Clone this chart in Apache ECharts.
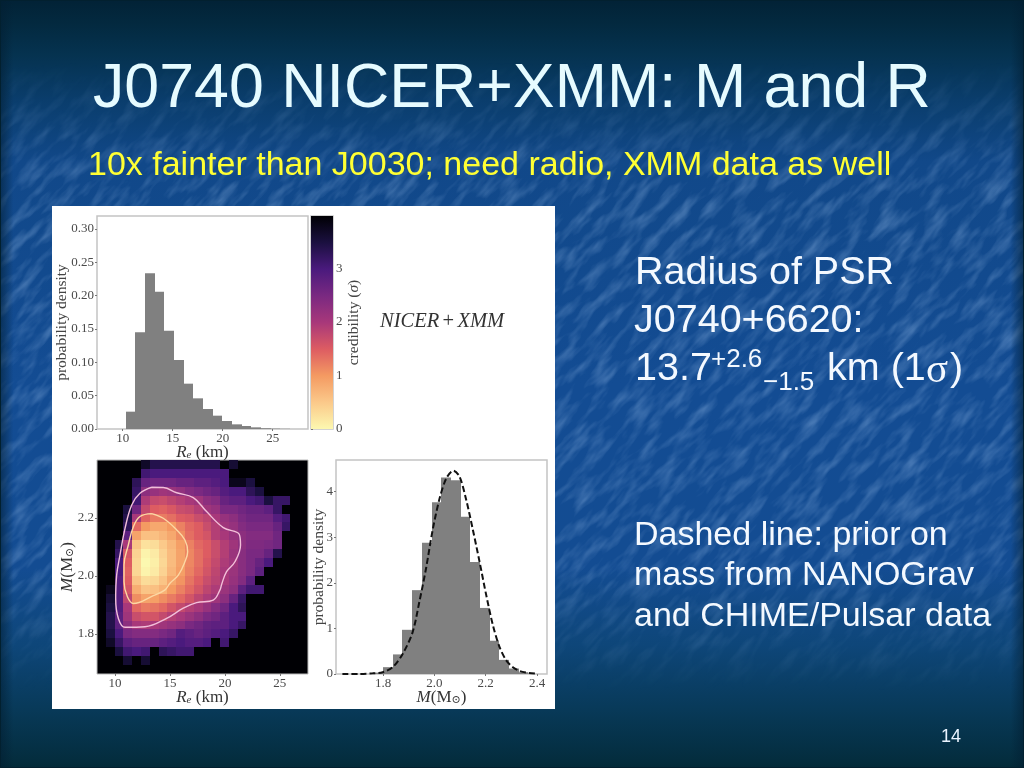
<!DOCTYPE html>
<html><head><meta charset="utf-8">
<style>
html,body{margin:0;padding:0;width:1024px;height:768px;overflow:hidden;background:#124a8c}
#bg{position:absolute;left:0;top:0;width:1024px;height:768px;background:linear-gradient(180deg,#022236 0,#03293f 3%,#05324f 7%,#0a3d6c 13%,#114889 21%,#134c93 50%,#134c92 74%,#0e4679 84%,#083a5a 92%,#042d3e 99%,#032a38 100%)}
#tx{position:absolute;left:0;top:0;width:1024px;height:768px;-webkit-mask-image:linear-gradient(180deg,transparent 8%,#000 25%,#000 72%,transparent 90%);mask-image:linear-gradient(180deg,transparent 8%,#000 25%,#000 72%,transparent 90%)}
#edge{position:absolute;left:0;top:0;width:1024px;height:768px;box-sizing:border-box;border:1px solid #02202f;background:linear-gradient(90deg,rgba(2,30,50,.55) 0,rgba(2,30,50,0) 1.2%,rgba(2,30,50,0) 98.8%,rgba(2,30,50,.55) 100%)}
#main{position:absolute;left:0;top:0;width:1024px;height:768px;filter:blur(0.45px)}
</style></head><body>
<div id="bg"></div>
<svg id="tx" xmlns="http://www.w3.org/2000/svg" width="1024" height="768">
<filter id="f" x="-30%" y="-30%" width="160%" height="160%"><feTurbulence type="fractalNoise" baseFrequency="0.03 0.1" numOctaves="3" seed="7"/><feColorMatrix type="matrix" values="0 0 0 0 0.42  0 0 0 0 0.62  0 0 0 0 0.92  0.7 0 0 0 -0.3"/></filter>
<g transform="rotate(-48 512 384)"><rect x="-300" y="-300" width="1624" height="1368" filter="url(#f)"/></g>
</svg>
<div id="edge"></div>
<div id="main"></div>
<script src="https://cdn.jsdelivr.net/npm/echarts@6/dist/echarts.min.js"></script>
<script>
// ---- top histogram: equatorial radius
const radiusEdges = [10.3,11.27,12.23,13.2,14.17,15.13,16.1,17.07,18.03,19.0,19.97,20.93,21.9,22.87,23.83,24.8,25.77,26.73];
const radiusDensity = [0.026,0.145,0.2335,0.206,0.1475,0.1035,0.068,0.046,0.03,0.02,0.012,0.007,0.0045,0.0025,0.0012,0.0006,0.0003];
const radiusTicks = [10,15,20,25];
const radiusDensityTicks = [0,0.05,0.10,0.15,0.20,0.25,0.30];
// ---- bottom histogram: mass
const massEdges = [1.762,1.8,1.838,1.875,1.913,1.951,1.989,2.026,2.064,2.102,2.14,2.177,2.215,2.253,2.291,2.328,2.366];
const massDensity = [0.03,0.15,0.43,0.97,1.84,2.88,3.77,4.31,4.25,3.45,2.46,1.45,0.73,0.31,0.12,0.04];
const priorMass = [1.641,1.707,1.759,1.798,1.837,1.876,1.915,1.941,1.967,1.993,2.02,2.046,2.074,2.098,2.124,2.15,2.176,2.202,2.228,2.254,2.28,2.306,2.332,2.358,2.398];
const priorDensity = [0,0.002,0.015,0.04,0.15,0.44,0.92,1.58,2.31,3.16,3.85,4.29,4.46,4.33,3.82,3.16,2.46,1.73,1.07,0.59,0.3,0.15,0.066,0.03,0.007];
const massTicks = [1.8,2.0,2.2,2.4];
const massDensityTicks = [0,1,2,3,4];
// ---- joint map: credibility (sigma) per cell, top row first; 4 = black
const heatRadiusStart = 8.36, heatRadiusStep = 0.8;
const heatMassTop = 2.4, heatMassStep = 0.03075;
const credibility = [
[4,4,4,4,4,3.7,3.4,3.4,3.4,3.4,3.4,3.4,3.4,3.4,4,3.6,4,4,4,4,4,4,4,4],
[4,4,4,4,4,3.1,3.0,3.0,3.0,3.0,3.0,3.0,3.0,3.0,3.0,4,4,4,4,4,4,4,4,4],
[4,4,4,4,3.3,2.7,2.6,2.6,2.6,2.7,2.7,2.8,2.8,2.9,3.0,3.8,3.8,3.5,4,4,4,4,4,4],
[4,4,4,4,3.2,2.3,2.2,2.1,2.15,2.25,2.4,2.5,2.6,2.7,2.9,3.0,3.0,3.3,3.5,4,4,4,4,4],
[4,4,4,4,3.1,1.95,1.75,1.7,1.8,1.9,2.0,2.1,2.3,2.4,2.7,2.8,2.8,3.0,3.1,3.5,3.2,3.2,4,4],
[4,4,4,3.5,2.6,1.75,1.5,1.45,1.55,1.7,1.75,1.9,2.1,2.2,2.5,2.5,2.6,2.7,2.7,2.8,3.2,4,4,4],
[4,4,4,3.4,2.0,1.45,1.25,1.25,1.35,1.5,1.55,1.7,1.8,2.0,2.2,2.3,2.5,2.6,2.6,2.6,2.9,3.1,4,4],
[4,4,4,3.3,1.4,1.0,0.85,0.85,1.0,1.2,1.4,1.5,1.7,1.9,2.1,2.2,2.4,2.5,2.5,2.5,2.7,3.2,4,4],
[4,4,4,2.8,0.9,0.6,0.6,0.7,0.85,1.1,1.35,1.5,1.6,1.9,2.0,2.2,2.3,2.4,2.4,2.4,2.6,4,4,4],
[4,4,3.4,2.0,0.55,0.25,0.3,0.5,0.7,0.95,1.2,1.4,1.5,1.7,1.9,2.1,2.3,2.45,2.45,2.5,2.6,4,4,4],
[4,4,3.2,1.6,0.4,0.05,0.15,0.4,0.65,0.9,1.15,1.35,1.5,1.7,1.9,2.15,2.35,2.5,2.5,2.7,3.4,4,4,4],
[4,4,3.0,1.5,0.35,0,0.1,0.35,0.65,0.9,1.15,1.35,1.55,1.75,1.95,2.1,2.35,2.5,2.7,3.0,4,4,4,4],
[4,4,3.0,1.45,0.35,0.05,0.15,0.4,0.7,0.95,1.2,1.4,1.6,1.8,2.0,2.15,2.35,2.5,2.8,4,4,4,4,4],
[4,4,2.9,1.5,0.55,0.3,0.35,0.55,0.85,1.05,1.3,1.5,1.7,1.85,2.0,2.2,2.4,2.8,4,4,4,4,4,4],
[4,3.8,2.9,1.6,0.8,0.55,0.6,0.75,1.0,1.2,1.4,1.6,1.8,1.95,2.15,2.3,2.8,3.1,3.1,4,4,4,4,4],
[4,3.6,2.9,1.8,1.1,0.9,0.95,1.1,1.25,1.4,1.6,1.8,1.95,2.1,2.3,2.7,3.2,4,4,4,4,4,4,4],
[4,3.5,2.9,2.0,1.4,1.25,1.3,1.4,1.6,1.75,1.9,2.0,2.2,2.4,2.6,3.0,3.3,4,4,4,4,4,4,4],
[4,3.4,2.8,2.1,1.7,1.6,1.6,1.75,1.9,2.0,2.15,2.3,2.5,2.6,2.8,3.0,3.0,4,4,4,4,4,4,4],
[4,3.4,2.8,2.3,2.0,1.95,2.0,2.1,2.2,2.3,2.5,2.6,2.75,2.8,2.8,3.0,3.2,4,4,4,4,4,4,4],
[4,3.5,3.0,2.5,2.4,2.4,2.4,2.5,2.6,2.9,2.8,2.7,2.8,2.9,3.0,3.2,4,4,4,4,4,4,4,4],
[4,3.7,3.2,2.8,2.7,2.7,2.7,2.8,2.9,3.0,2.9,2.9,3.0,4,3.1,4,4,4,4,4,4,4,4,4],
[4,4,3.5,3.1,3.0,3.1,4,3.3,3.2,3.1,3.1,4,4,4,4,4,4,4,4,4,4,4,4,4],
[4,4,4,3.6,4,3.6,4,4,4,4,4,4,4,4,4,4,4,4,4,4,4,4,4,4],
[4,4,4,4,4,4,4,4,4,4,4,4,4,4,4,4,4,4,4,4,4,4,4,4]
];
const heatRadiusTicks = [10,15,20,25];
const heatMassTicks = [1.8,2.0,2.2];
const contourOuter = [[13.33,2.306],[14.39,2.305],[15.61,2.287],[17.12,2.27],[18.33,2.222],[19.85,2.167],[21.3,2.144],[21.42,2.107],[20.91,2.049],[20.15,2.015],[19.7,1.971],[19.55,1.952],[18.94,1.917],[17.42,1.908],[16.21,1.889],[14.7,1.854],[12.73,1.825],[10.91,1.823],[10.3,1.854],[10.06,1.923],[10.15,2.003],[10.45,2.072],[10.91,2.164],[11.52,2.245],[12.27,2.285],[13.33,2.306]];
const contourInner = [[13.33,2.215],[14.39,2.199],[15.61,2.159],[16.36,2.124],[16.61,2.084],[16.36,2.049],[15.76,2.003],[15.0,1.975],[14.55,1.952],[13.48,1.932],[11.67,1.905],[11.12,1.929],[10.82,1.98],[10.82,2.038],[11.21,2.107],[11.67,2.17],[12.27,2.205],[13.33,2.215]];
// ---- colour bar
const sigmaColors = ['#fcf8b0','#fbc98a','#f49a62','#dd5c62','#a8387a','#7a2981','#4a1a7d','#1b1040','#000004'];
const sigmaTicks = [0,1,2,3];
const sigmaMax = 3.98;

const SERIF = '"Liberation Serif","DejaVu Serif",serif';
const SANS = '"Liberation Sans",Arial,sans-serif';
const INK = '#4a4a4a';
const chart = echarts.init(document.getElementById('main'), null, {renderer:'canvas',width:1024,height:768});

const mathRich = {
  n:{fontFamily:SERIF,fontSize:17,color:'#333'},
  i:{fontFamily:SERIF,fontSize:17,fontStyle:'italic',color:'#333'},
  s:{fontFamily:SERIF,fontSize:11,fontStyle:'italic',color:'#333',padding:[5,0,0,0]},
  b:{fontFamily:SERIF,fontSize:11,color:'#333',padding:[5,0,0,0]}
};
function axis(min,max,ticks,fmt,extra){
  return Object.assign({type:'value',min,max,nameMoveOverlap:false,
    axisLine:{show:false},splitLine:{show:false},
    axisTick:{show:true,length:2,inside:false,customValues:ticks,lineStyle:{color:'#777',width:1}},
    axisLabel:{show:true,margin:3,color:INK,fontFamily:SERIF,fontSize:13,customValues:ticks,hideOverlap:false,showMinLabel:true,showMaxLabel:true,formatter:fmt},
    nameTextStyle:{fontFamily:SERIF,fontSize:15.5,color:'#444'}
  },extra||{});
}
const grids = [
  {left:97,top:216,width:211,height:213},
  {left:97,top:460,width:211,height:214},
  {left:336,top:460,width:211,height:214},
  {left:311,top:216,width:22,height:213}
].map(g=>Object.assign(g,{show:true,borderColor:'#c4c4c4',borderWidth:1.5,backgroundColor:'transparent',containLabel:false}));
grids[1].backgroundColor='#000004'; grids[1].borderColor='#bbb'; grids[1].borderWidth=1;

const kmName = '{i|R}{s|e}{n| (km)}';
const mName = '{i|M}{n|(M}{b|⊙}{n|)}';
const xAxes = [
  axis(7.43,28.53,radiusTicks,v=>String(v),{gridIndex:0,name:kmName,nameLocation:'middle',nameGap:15,nameTextStyle:{rich:mathRich}}),
  axis(8.36,27.56,heatRadiusTicks,v=>String(v),{gridIndex:1,name:kmName,nameLocation:'middle',nameGap:15,nameTextStyle:{rich:mathRich}}),
  axis(1.616,2.439,massTicks,v=>v.toFixed(1),{gridIndex:2,name:mName,nameLocation:'middle',nameGap:15,nameTextStyle:{rich:mathRich}}),
  {type:'value',gridIndex:3,min:0,max:1,show:false}
];
const yAxes = [
  axis(0,0.3195,radiusDensityTicks,v=>v.toFixed(2),{gridIndex:0,name:'probability density',nameLocation:'middle',nameGap:27}),
  axis(1.662,2.4,heatMassTicks,v=>v.toFixed(1),{gridIndex:1,name:mName,nameLocation:'middle',nameGap:21,nameTextStyle:{rich:mathRich}}),
  axis(0,4.696,massDensityTicks,v=>String(v),{gridIndex:2,name:'probability density',nameLocation:'middle',nameGap:9}),
  axis(0,sigmaMax,sigmaTicks,v=>String(v),{gridIndex:3,position:'right',name:'credibility',nameLocation:'middle',nameGap:13})
];
yAxes[3].name='{n|credibility (}{i|σ}{n|)}';
yAxes[3].nameTextStyle={rich:{n:{fontFamily:SERIF,fontSize:15.5,color:'#444'},i:{fontFamily:SERIF,fontSize:15.5,fontStyle:'italic',color:'#444'}}};

function binData(edges,vals){return vals.map((v,i)=>[edges[i],edges[i+1],v]);}
function barItem(params,api){
  const a=api.coord([api.value(0),0]), b=api.coord([api.value(1),api.value(2)]);
  const x0=Math.round(a[0]), x1=Math.round(b[0]);
  return {type:'rect',shape:{x:x0,y:b[1],width:x1-x0,height:a[1]-b[1]},style:{fill:'#808080'}};
}
const heatData=[];
credibility.forEach((row,r)=>row.forEach((v,c)=>{
  const x0=heatRadiusStart+c*heatRadiusStep, y1=heatMassTop-r*heatMassStep;
  if(v<4) heatData.push([x0,x0+heatRadiusStep,y1-heatMassStep,y1,v]);
}));
function heatItem(params,api){
  const a=api.coord([api.value(0),api.value(2)]), b=api.coord([api.value(1),api.value(3)]);
  const x0=Math.round(a[0]), x1=Math.round(b[0]), y0=Math.round(b[1]), y1=Math.round(a[1]);
  return {type:'rect',shape:{x:x0,y:y0,width:x1-x0,height:y1-y0},style:{fill:api.visual('color')}};
}
const gradStops=sigmaColors.map((c,i)=>({offset:i/(sigmaColors.length-1),color:c}));
function barItemColor(params,api){
  const a=api.coord([0,0]), b=api.coord([1,api.value(1)]);
  return {type:'rect',shape:{x:a[0],y:b[1],width:b[0]-a[0],height:a[1]-b[1]},
    style:{fill:new echarts.graphic.LinearGradient(0,1,0,0,gradStops)}};
}

const WHITE='#f4f9ff';
const texts=[
 ['J0740 NICER+XMM: M and R',93,90,'62.7px '+SANS,'#e6fbff',true],
 ['10x fainter than J0030; need radio, XMM data as well',88,166,'34px '+SANS,'#ffff33'],
 ['Radius of PSR',635,273,'39.5px '+SANS,WHITE],
 ['J0740+6620:',634,321,'39.5px '+SANS,WHITE],
 ['13.7',635,369,'39.5px '+SANS,WHITE],
 ['+2.6',711,360,'26px '+SANS,WHITE],
 ['−1.5',763,383,'26px '+SANS,WHITE],
 ['km (1',827,369,'39.5px '+SANS,WHITE],
 ['σ',926,371,'41px '+SERIF,WHITE],
 [')',950,369,'39.5px '+SANS,WHITE],
 ['Dashed line: prior on',634,536,'34px '+SANS,WHITE],
 ['mass from NANOGrav',634,576,'34px '+SANS,WHITE],
 ['and CHIME/Pulsar data',634,617,'34px '+SANS,WHITE],
 ['14',941,737,'18px '+SANS,'#eaf4ff']
];
const graphic=[{type:'rect',z:-10,shape:{x:52,y:206,width:503,height:503},style:{fill:'#fff'}}]
 .concat(texts.map(t=>({type:'text',z:10,style:Object.assign({text:t[0],x:t[1],y:t[2],font:t[3],fill:t[4],textVerticalAlign:'middle'},
   t[5]?{shadowBlur:7,shadowColor:'rgba(0,20,40,0.95)',shadowOffsetX:3,shadowOffsetY:3}:{})})))
 .concat([{type:'text',z:10,style:{
    text:'{i|NICER} {n|+} {i|XMM}',x:380,y:322,textVerticalAlign:'middle',
    rich:{i:{fontFamily:SERIF,fontStyle:'italic',fontSize:20.5,fill:'#333',color:'#333'},n:{fontFamily:SERIF,fontSize:20.5,fill:'#333',color:'#333'}}}}]);

chart.setOption({
  animation:false,
  backgroundColor:'transparent',
  grid:grids, xAxis:xAxes, yAxis:yAxes,
  graphic,
  visualMap:[{show:false,type:'continuous',seriesIndex:1,dimension:4,min:0,max:4,inRange:{color:sigmaColors}}],
  series:[
    {type:'custom',xAxisIndex:0,yAxisIndex:0,renderItem:barItem,encode:{x:[0,1],y:2},data:binData(radiusEdges,radiusDensity),silent:true},
    {type:'custom',xAxisIndex:1,yAxisIndex:1,renderItem:heatItem,encode:{x:[0,1],y:[2,3]},data:heatData,silent:true},
    {type:'line',xAxisIndex:1,yAxisIndex:1,data:contourOuter,smooth:0.4,showSymbol:false,lineStyle:{color:'#f2bfd9',width:1.4},silent:true,z:5},
    {type:'line',xAxisIndex:1,yAxisIndex:1,data:contourInner,smooth:0.4,showSymbol:false,lineStyle:{color:'#fcd8a4',width:1.4},silent:true,z:5},
    {type:'custom',xAxisIndex:2,yAxisIndex:2,renderItem:barItem,encode:{x:[0,1],y:2},data:binData(massEdges,massDensity),silent:true},
    {type:'line',xAxisIndex:2,yAxisIndex:2,data:priorMass.map((m,i)=>[m,priorDensity[i]]),smooth:0.3,showSymbol:false,lineStyle:{color:'#111',width:2,type:[6,3]},silent:true,z:5},
    {type:'custom',xAxisIndex:3,yAxisIndex:3,renderItem:barItemColor,encode:{y:1},data:[[0,sigmaMax]],silent:true}
  ]
});
</script>
</body></html>
